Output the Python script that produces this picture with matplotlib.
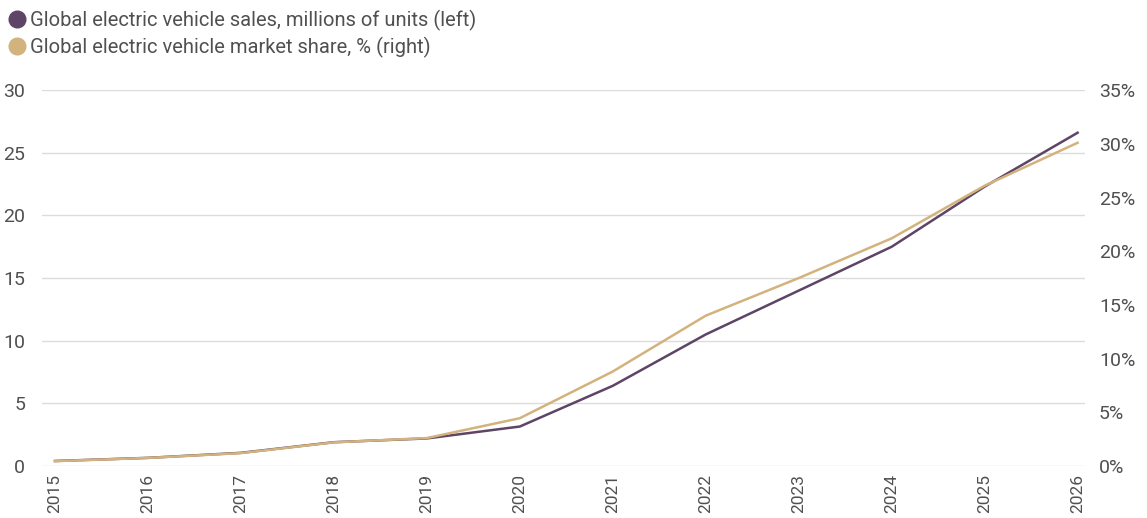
# Global EV sales and market share, dual axis line chart
import matplotlib.pyplot as plt
from matplotlib.lines import Line2D
from matplotlib.ticker import FuncFormatter

plt.rcParams["font.family"] = "Roboto"
plt.rcParams["text.color"] = "#505050"

# data
years = [2015, 2016, 2017, 2018, 2019, 2020, 2021, 2022, 2023, 2024, 2025, 2026]
sales = [0.4, 0.65, 1.05, 1.9, 2.2, 3.15, 6.4, 10.5, 14.0, 17.5, 22.3, 26.6]
share = [0.45, 0.75, 1.2, 2.2, 2.6, 4.45, 8.8, 14.0, 17.5, 21.2, 26.1, 30.1]

purple = "#5e4466"
gold = "#d3b37d"
grey = "#505050"

fig = plt.figure(figsize=(11.47, 5.18), dpi=100)
ax = fig.add_axes([0.0366, 0.1004, 0.9094, 0.7256])
ax2 = ax.twinx()

ax.plot(years, sales, color=purple, lw=1.8, zorder=3)
ax2.plot(years, share, color=gold, lw=1.8, zorder=3)

ax.set_xlim(2014.86, 2026.08)
ax.set_ylim(0, 30)
ax2.set_ylim(0, 35)
ax.set_yticks(range(0, 31, 5))
ax2.set_yticks(range(0, 36, 5))
ax2.yaxis.set_major_formatter(FuncFormatter(lambda v, p: f"{v:.0f}%"))
ax.set_xticks(years)
ax.set_xticklabels([str(y) for y in years], rotation=90)

ax.grid(axis="y", color="#dcdcdc", lw=1)
ax.set_axisbelow(True)
for a in (ax, ax2):
    for s in a.spines.values():
        s.set_visible(False)
    a.tick_params(length=0, labelsize=14, labelcolor=grey)
ax.tick_params(axis="y", pad=12)
ax.tick_params(axis="x", pad=6, labelsize=12.5)
ax2.tick_params(axis="y", pad=10)

handles = [
    Line2D([], [], marker="o", ls="", color=purple, markersize=12),
    Line2D([], [], marker="o", ls="", color=gold, markersize=12),
]
labels = [
    "Global electric vehicle sales, millions of units (left)",
    "Global electric vehicle market share, % (right)",
]
fig.legend(handles, labels, loc="upper left", bbox_to_anchor=(-0.009, 1.008),
           frameon=False, fontsize=14.5, handletextpad=0.0, labelspacing=0.3,
           borderaxespad=0.3, handlelength=1.3)

fig.savefig("out.png", dpi=100)
